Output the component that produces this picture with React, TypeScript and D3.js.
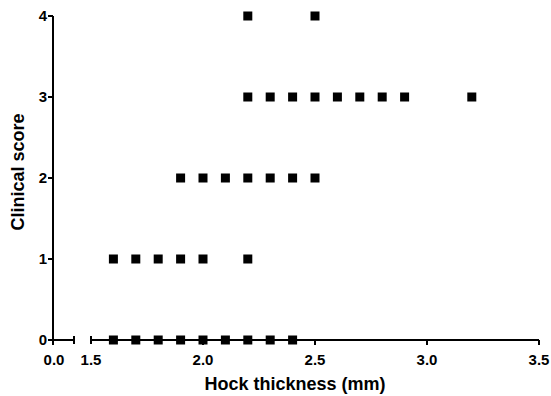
import React from "react";
import * as d3 from "d3";

// Clinical score observations, grouped by score
const score0 = [1.6, 1.7, 1.8, 1.9, 2.0, 2.1, 2.2, 2.3, 2.4];
const score1 = [1.6, 1.7, 1.8, 1.9, 2.0, 2.2];
const score2 = [1.9, 2.0, 2.1, 2.2, 2.3, 2.4, 2.5];
const score3 = [2.2, 2.3, 2.4, 2.5, 2.6, 2.7, 2.8, 2.9, 3.2];
const score4 = [2.2, 2.5];
const scoreGroups = [score0, score1, score2, score3, score4];

const xTicksMain = [1.5, 2.0, 2.5, 3.0, 3.5];
const yTicks = [0, 1, 2, 3, 4];

const W = 551;
const H = 396;
const font = "Arial, 'Liberation Sans', sans-serif";

export default function App() {
  const axisX0 = 53;
  const breakEnd = 74;
  const breakStart = 91;
  const xRight = 539;
  const y0 = 340;
  const yTop = 16;

  const x = d3.scaleLinear().domain([1.5, 3.5]).range([breakStart, xRight]);
  const y = d3.scaleLinear().domain([0, 4]).range([y0, yTop]);

  const points = scoreGroups.flatMap((xs, s) => xs.map((v) => ({ x: v, y: s })));
  const m = 9;

  return (
    <svg width={W} height={H} style={{ position: "absolute", left: 0, top: 0 }}>
      <rect width={W} height={H} fill="#fff" />
      {/* y axis */}
      <line x1={axisX0} x2={axisX0} y1={yTop} y2={y0 + 5} stroke="#000" strokeWidth={2} />
      {yTicks.map((t) => (
        <g key={t}>
          <line x1={axisX0 - 5} x2={axisX0} y1={y(t)} y2={y(t)} stroke="#000" strokeWidth={2} />
          <text x={axisX0 - 6} y={y(t) + 5} textAnchor="end" fontFamily={font} fontWeight="bold" fontSize={15}>
            {t}
          </text>
        </g>
      ))}
      {/* x axis, first segment 0.0 with break */}
      <line x1={axisX0} x2={breakEnd} y1={y0} y2={y0} stroke="#000" strokeWidth={2} />
      <line x1={breakEnd} x2={breakEnd} y1={y0 - 4} y2={y0 + 4} stroke="#000" strokeWidth={2} />
      <text x={axisX0 + 1} y={y0 + 25} textAnchor="middle" fontFamily={font} fontWeight="bold" fontSize={15}>
        0.0
      </text>
      {/* x axis, main segment */}
      <line x1={breakStart} x2={xRight} y1={y0} y2={y0} stroke="#000" strokeWidth={2} />
      <line x1={breakStart} x2={breakStart} y1={y0 - 4} y2={y0 + 4} stroke="#000" strokeWidth={2} />
      {xTicksMain.map((t) => (
        <g key={t}>
          {t !== 1.5 && (
            <line x1={x(t)} x2={x(t)} y1={y0} y2={y0 + 5} stroke="#000" strokeWidth={2} />
          )}
          <text x={x(t)} y={y0 + 25} textAnchor="middle" fontFamily={font} fontWeight="bold" fontSize={15}>
            {t.toFixed(1)}
          </text>
        </g>
      ))}
      {/* points */}
      {points.map((p, i) => (
        <rect key={i} x={x(p.x) - m / 2} y={y(p.y) - m / 2} width={m} height={m} fill="#000" />
      ))}
      {/* axis titles */}
      <text x={295} y={390} textAnchor="middle" fontFamily={font} fontWeight="bold" fontSize={18}>
        Hock thickness (mm)
      </text>
      <text
        transform={`translate(24, 172) rotate(-90)`}
        textAnchor="middle"
        fontFamily={font}
        fontWeight="bold"
        fontSize={18}
      >
        Clinical score
      </text>
    </svg>
  );
}
